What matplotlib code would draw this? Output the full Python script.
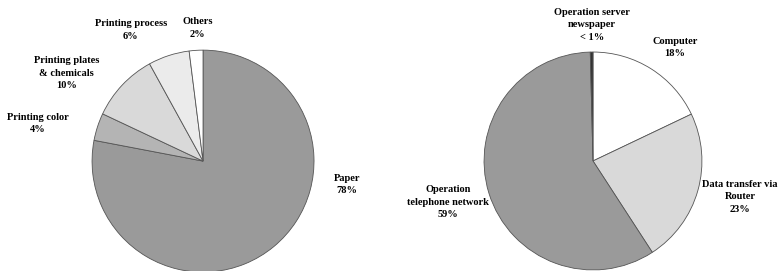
import matplotlib
matplotlib.use('Agg')
import matplotlib.pyplot as plt

# Left pie: cost shares of printed newspaper
print_labels = ['Paper\n78%', 'Printing color\n4%', 'Printing plates\n& chemicals\n10%',
                'Printing process\n6%', 'Others\n2%']
print_values = [78, 4, 10, 6, 2]
print_colors = ['#9a9a9a', '#b4b4b4', '#d9d9d9', '#ebebeb', '#ffffff']
print_label_pos = [(1.30, -0.21), (-1.49, 0.34), (-1.23, 0.79), (-0.65, 1.18), (-0.05, 1.20)]

# Right pie: cost shares of online newspaper
online_labels = ['Computer\n18%', 'Data transfer via\nRouter\n23%',
                 'Operation\ntelephone network\n59%', 'Operation server\nnewspaper\n< 1%']
online_values = [18, 23, 59, 0.4]
online_colors = ['#ffffff', '#d9d9d9', '#9a9a9a', '#333333']
online_label_pos = [(0.75, 1.04), (1.35, -0.33), (-1.33, -0.38), (-0.01, 1.25)]

plt.rcParams['font.family'] = ['Liberation Serif', 'DejaVu Serif']

fig = plt.figure(figsize=(7.8, 2.71), dpi=100)
ax1 = fig.add_axes([0.118, -0.004, 0.2846, 0.819])
ax2 = fig.add_axes([0.6205, 0.004, 0.2795, 0.804])

for ax, vals, cols, labs, pos in [(ax1, print_values, print_colors, print_labels, print_label_pos),
                                   (ax2, online_values, online_colors, online_labels, online_label_pos)]:
    ax.pie(vals, colors=cols, startangle=90, counterclock=False, radius=1,
           wedgeprops=dict(edgecolor='#555555', linewidth=0.6))
    ax.set_xlim(-1, 1)
    ax.set_ylim(-1, 1)
    ax.set_aspect('equal')
    ax.axis('off')
    for lab, (x, y) in zip(labs, pos):
        ax.text(x, y, lab, ha='center', va='center', fontsize=7.5, fontweight='bold',
                linespacing=1.5, clip_on=False)

fig.savefig('out.png', dpi=100)
